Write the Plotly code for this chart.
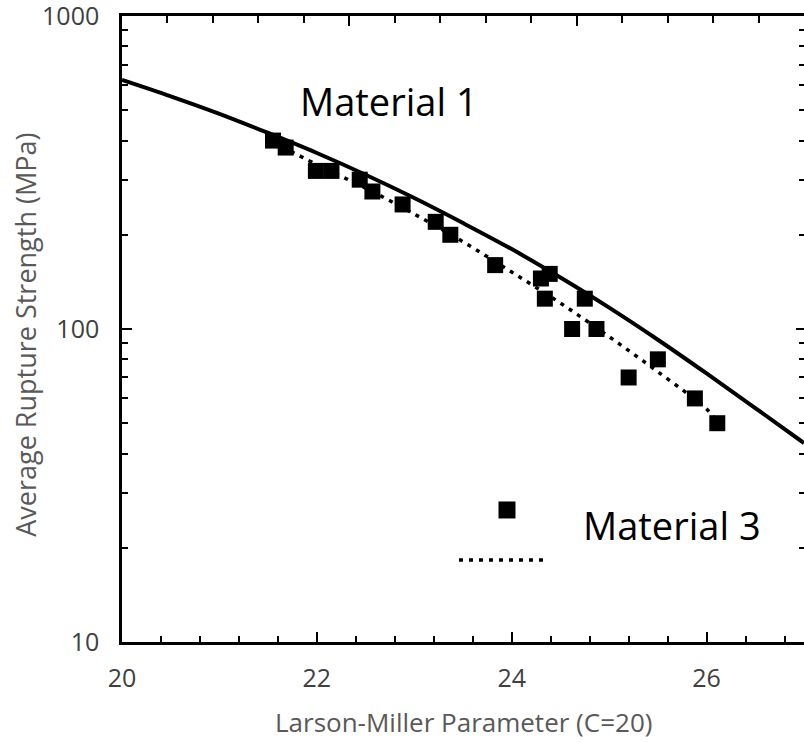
import plotly.graph_objects as go

# Material 1 (solid fit curve)
m1_x = [20, 20.5, 21, 21.5, 22, 22.5, 23, 23.5, 24, 24.5, 25, 25.5, 26, 26.5, 27]
m1_y = [625, 554, 487, 423, 365, 311, 262, 218, 180, 146, 117, 92.4, 72.1, 55.9, 43.2]

# Material 3 data points
m3_x = [21.55, 21.68, 21.99, 22.15, 22.44, 22.57, 22.88, 23.22, 23.37, 23.83,
        24.30, 24.39, 24.34, 24.75, 24.62, 24.87, 25.50, 25.20, 25.88, 26.11]
m3_y = [400, 380, 320, 320, 300, 275, 250, 220, 200, 160,
        145, 150, 125, 125, 100, 100, 80, 70, 60, 50]

# Material 3 dotted fit
m3fit_x = [21.55, 22, 22.5, 23, 23.5, 24, 24.5, 25, 25.5, 26, 26.1]
m3fit_y = [396, 335, 282, 233, 190, 152, 121, 94.5, 73, 55.5, 51]

x_ticks = [20, 22, 24, 26]
y_ticks = [10, 100, 1000]

FONT = "Open Sans"
TICKCOL = "#404040"
TITLECOL = "#595959"

fig = go.Figure()
fig.add_trace(go.Scatter(x=m1_x, y=m1_y, mode="lines", line=dict(color="black", width=4, shape="spline"),
                         name="Material 1", showlegend=False, hoverinfo="skip"))
fig.add_trace(go.Scatter(x=m3fit_x, y=m3fit_y, mode="lines",
                         line=dict(color="black", width=3.5, dash="4px,6px", shape="spline"),
                         name="Material 3 fit", showlegend=False, hoverinfo="skip"))
fig.add_trace(go.Scatter(x=m3_x, y=m3_y, mode="markers",
                         marker=dict(symbol="square", size=16, color="black"),
                         name="Material 3", showlegend=False))
# dummy trace for the mirror (top/right) axes
fig.add_trace(go.Scatter(x=[], y=[], xaxis="x2", yaxis="y2", showlegend=False, hoverinfo="skip"))

common = dict(showgrid=False, zeroline=False, automargin=False, tickcolor="black", tickwidth=2)

fig.update_layout(
    width=804, height=742,
    margin=dict(l=122, r=0, t=16, b=100, autoexpand=False),
    paper_bgcolor="white", plot_bgcolor="white",
    font=dict(family=FONT, color=TICKCOL),
    xaxis=dict(range=[20, 27], tickvals=x_ticks, ticks="inside", ticklen=10,
               showline=True, linewidth=2.5, linecolor="black",
               tickfont=dict(family=FONT, size=25, color=TICKCOL), ticklabelstandoff=12,
               ticklabeloverflow="allow",
               minor=dict(dtick=0.4, tick0=20, ticks="inside", ticklen=6, tickwidth=2, tickcolor="black", showgrid=False),
               **common),
    yaxis=dict(type="log", range=[0.9999, 3.0001], tickvals=y_ticks, ticktext=[str(v) for v in y_ticks],
               ticks="inside", ticklen=10,
               showline=True, linewidth=2.5, linecolor="black",
               tickfont=dict(family=FONT, size=25, color=TICKCOL), ticklabelstandoff=15,
               ticklabeloverflow="allow",
               minor=dict(dtick="D1", ticks="inside", ticklen=6, tickwidth=2, tickcolor="black", showgrid=False),
               **common),
    xaxis2=dict(overlaying="x", side="top", anchor="y2", range=[0, 15], dtick=5, tick0=0,
                ticks="inside", ticklen=10,
                showline=True, linewidth=2.5, linecolor="black", showticklabels=False,
                minor=dict(dtick=1, ticks="inside", ticklen=7, tickwidth=2, tickcolor="black", showgrid=False),
                **common),
    yaxis2=dict(overlaying="y", side="right", anchor="x2", type="log", range=[0.9999, 3.0001], dtick=1,
                ticks="inside", ticklen=8,
                showline=False, showticklabels=False,
                minor=dict(dtick="D1", ticks="inside", ticklen=5, tickwidth=2, tickcolor="black", showgrid=False),
                **common),
    annotations=[
        dict(text="Larson-Miller Parameter (C=20)", xref="paper", yref="paper", x=0.5, y=-0.128,
             xanchor="center", yanchor="middle", showarrow=False,
             font=dict(family=FONT, size=26, color=TITLECOL)),
        dict(text="Average Rupture Strength (MPa)", xref="paper", yref="paper", x=-0.142, y=0.491,
             xanchor="center", yanchor="middle", textangle=-90, showarrow=False,
             font=dict(family=FONT, size=27, color=TITLECOL)),
        dict(text="Material 1", xref="paper", yref="paper", x=0.392, y=0.865,
             xanchor="center", yanchor="middle", showarrow=False,
             font=dict(family=FONT, size=38, color="black")),
        dict(text="Material 3", xref="paper", yref="paper", x=0.806, y=0.187,
             xanchor="center", yanchor="middle", showarrow=False,
             font=dict(family=FONT, size=38, color="black")),
    ],
    shapes=[
        # legend sample: square marker
        dict(type="rect", xref="paper", yref="paper", xsizemode="pixel", ysizemode="pixel",
             xanchor=0.5645, yanchor=0.2109, x0=-8.5, x1=8.5, y0=-8.5, y1=8.5,
             fillcolor="black", line=dict(width=0)),
        # legend sample: dotted line
        dict(type="line", xref="paper", yref="paper", x0=0.4941, x1=0.6246, y0=0.131, y1=0.131,
             line=dict(color="black", width=3.5, dash="4px,6px")),
    ],
)

fig.write_html("out.html", config={"displayModeBar": False},
               post_script="document.body.style.margin='0px';")
